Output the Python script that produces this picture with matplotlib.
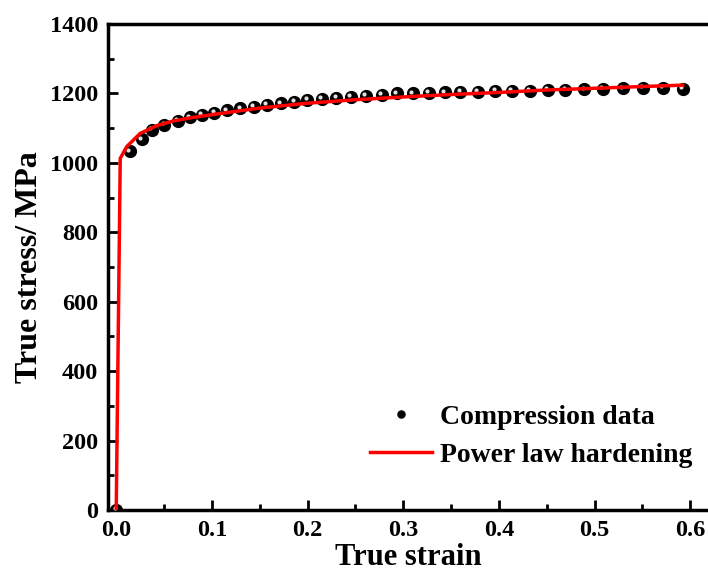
import matplotlib
matplotlib.use("Agg")
import matplotlib.pyplot as plt
import matplotlib.transforms as mtransforms
from matplotlib.ticker import MultipleLocator

# Compression data
strain_data = [0.0, 0.0139, 0.0268, 0.0373, 0.0502, 0.0641, 0.0766, 0.0895, 0.1024,
               0.1157, 0.1296, 0.1435, 0.1575, 0.1721, 0.1860, 0.1999, 0.2149,
               0.2299, 0.2452, 0.2612, 0.2777, 0.2934, 0.3097, 0.3264, 0.3432,
               0.3596, 0.3777, 0.3962, 0.4136, 0.4320, 0.4508, 0.4693, 0.4892,
               0.5087, 0.5292, 0.5501, 0.5714, 0.5923]
stress_data = [0, 1033, 1068, 1095, 1110, 1122, 1131, 1138, 1145,
               1151, 1157, 1162, 1167, 1172, 1176, 1181, 1184,
               1187, 1190, 1193, 1196, 1200, 1200, 1202, 1203,
               1205, 1205, 1208, 1208, 1208, 1210, 1210, 1212,
               1213, 1215, 1216, 1217, 1214]

# Power law hardening fit
strain_fit = [0.0, 0.0042, 0.011, 0.025, 0.043, 0.06, 0.08, 0.1, 0.15, 0.2,
              0.25, 0.3, 0.35, 0.4, 0.45, 0.5, 0.55, 0.592]
stress_fit = [0, 1013, 1047, 1085, 1108, 1121, 1131, 1139, 1158, 1172,
              1182, 1190, 1197, 1203, 1210, 1215, 1220, 1224]

plt.rcParams['font.family'] = ['Liberation Serif', 'DejaVu Serif']
plt.rcParams['font.weight'] = 'bold'

fig = plt.figure(figsize=(7.08, 5.73), dpi=100)
ax = fig.add_axes([0.152, 0.110, 0.850, 0.848])

ax.plot(strain_data, stress_data, 'o', color='black', markersize=8.5,
        label='Compression data', zorder=3)
# small white glint on each marker
glint = ax.transData + mtransforms.ScaledTranslation(-1.2 / 72, 1.2 / 72, fig.dpi_scale_trans)
ax.plot(strain_data, stress_data, 'o', color='#e0e0e0', markersize=3,
        markeredgewidth=0, transform=glint, zorder=4)
ax.plot(strain_fit, stress_fit, '-', color='red', linewidth=2.5,
        label='Power law hardening', zorder=5)

ax.set_xlim(-0.009, 0.62)
ax.set_ylim(0, 1400)
ax.xaxis.set_major_locator(MultipleLocator(0.1))
ax.xaxis.set_minor_locator(MultipleLocator(0.05))
ax.yaxis.set_major_locator(MultipleLocator(200))
ax.yaxis.set_minor_locator(MultipleLocator(100))
ax.xaxis.set_major_formatter(plt.FuncFormatter(lambda v, p: '%.1f' % v))

ax.tick_params(which='major', direction='in', length=7, width=2, labelsize=17.5, pad=7)
ax.tick_params(which='minor', direction='in', length=4, width=2)
ax.tick_params(top=False, right=False)
for s in ax.spines.values():
    s.set_linewidth(2.5)

ax.set_xlabel('True strain', fontsize=22, fontweight='bold', labelpad=2)
ax.set_ylabel('True stress/ MPa', fontsize=23, fontweight='bold', labelpad=4)

ax.legend(loc='lower right', bbox_to_anchor=(1.013, 0.035), frameon=False,
          fontsize=20, handlelength=2.2, handletextpad=0.3, labelspacing=0.45,
          markerscale=0.6)

fig.savefig('out.png', dpi=100)
